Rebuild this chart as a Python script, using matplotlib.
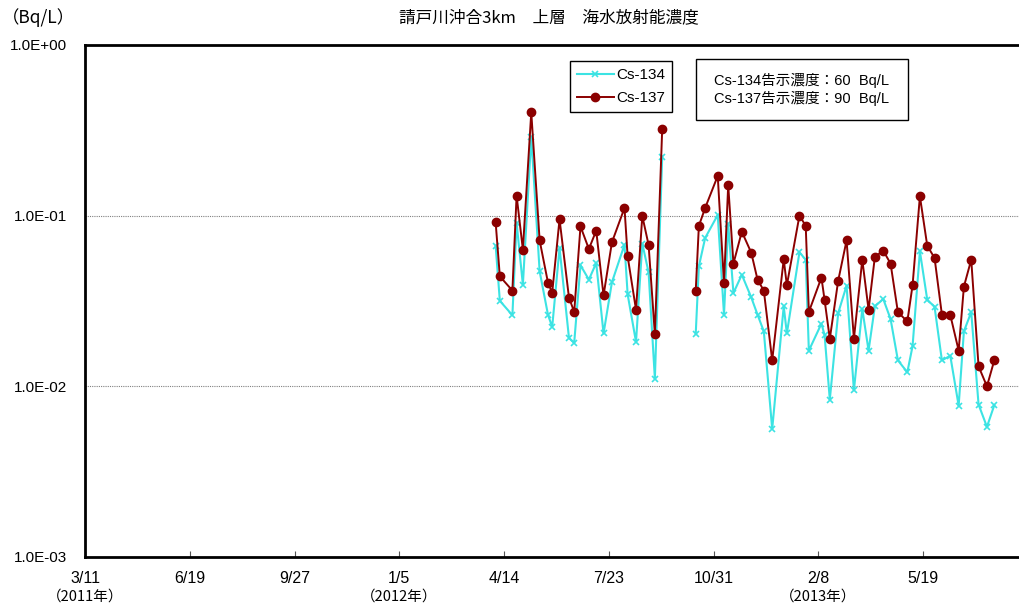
import matplotlib
matplotlib.use("Agg")
import matplotlib.pyplot as plt
from matplotlib.patches import Rectangle
import numpy as np
import pandas as pd

# ---- data ----
dates = [
    "2012-04-06", "2012-04-10", "2012-04-22", "2012-04-26", "2012-05-02", "2012-05-10",
    "2012-05-18", "2012-05-26", "2012-05-30", "2012-06-06", "2012-06-15", "2012-06-20",
    "2012-06-26", "2012-07-04", "2012-07-11", "2012-07-18", "2012-07-26", "2012-08-07",
    "2012-08-10", "2012-08-18", "2012-08-24", "2012-08-30", "2012-09-05", "2012-09-12",
    "2012-10-14", "2012-10-17", "2012-10-23", "2012-11-04", "2012-11-10", "2012-11-14",
    "2012-11-19", "2012-11-27", "2012-12-06", "2012-12-12", "2012-12-18", "2012-12-26",
    "2013-01-06", "2013-01-09", "2013-01-21", "2013-01-27", "2013-01-30", "2013-02-11",
    "2013-02-14", "2013-02-19", "2013-02-27", "2013-03-07", "2013-03-14", "2013-03-22",
    "2013-03-28", "2013-04-03", "2013-04-11", "2013-04-18", "2013-04-25", "2013-05-04",
    "2013-05-09", "2013-05-16", "2013-05-23", "2013-05-30", "2013-06-06", "2013-06-14",
    "2013-06-22", "2013-06-27", "2013-07-04", "2013-07-11", "2013-07-19", "2013-07-26",
]
cs134 = [
    0.0667, 0.0317, 0.0261, 0.0906, 0.0394, 0.289, 0.0472, 0.0262, 0.0223, 0.0647,
    0.0192, 0.0180, 0.0512, 0.0422, 0.0528, 0.0204, 0.0407, 0.0676, 0.0346, 0.0182,
    0.0686, 0.0466, 0.0111, 0.222,
    0.0203, 0.0505, 0.074, 0.101, 0.0263, 0.0898, 0.0352, 0.0451, 0.0332, 0.0263,
    0.0210, 0.00562, 0.0294, 0.0204, 0.0610, 0.0552, 0.0162, 0.0233, 0.0200, 0.00836,
    0.0269, 0.0389,
    0.00948, 0.0284, 0.0162, 0.0294, 0.0325, 0.0248, 0.0142, 0.0121, 0.0172, 0.0618,
    0.0322, 0.0292, 0.0142, 0.0151, 0.0077, 0.0210, 0.0272, 0.00782, 0.00579, 0.00775,
]
cs137 = [
    0.0914, 0.0441, 0.0364, 0.131, 0.0633, 0.403, 0.0716, 0.0404, 0.0354, 0.0952,
    0.0331, 0.0273, 0.0865, 0.0638, 0.0817, 0.0341, 0.0698, 0.111, 0.0578, 0.0281,
    0.0996, 0.0674, 0.0202, 0.322,
    0.0362, 0.0871, 0.111, 0.171, 0.0403, 0.151, 0.0524, 0.0806, 0.0607, 0.0422,
    0.0364, 0.0142, 0.0555, 0.0391, 0.100, 0.0873, 0.0273, 0.0434, 0.0321, 0.0190,
    0.0416, 0.0716,
    0.0190, 0.0552, 0.0281, 0.0573, 0.0624, 0.0524, 0.0272, 0.0240, 0.0391, 0.130,
    0.0667, 0.0565, 0.0263, 0.0262, 0.0162, 0.0384, 0.0552, 0.0131, 0.0100, 0.0142,
]
tick_dates = ["2011-03-11", "2011-06-19", "2011-09-27", "2012-01-05", "2012-04-14",
              "2012-07-23", "2012-10-31", "2013-02-08", "2013-05-19"]
tick_labels = ["3/11", "6/19", "9/27", "1/5", "4/14", "7/23", "10/31", "2/8", "5/19"]
year_dates = ["2011-03-11", "2012-01-05", "2013-02-08"]
year_labels = ["（2011年）", "（2012年）", "（2013年）"]
title = "請戸川沖合3km　上層　海水放射能濃度"
note = "Cs-134告示濃度：60  Bq/L\nCs-137告示濃度：90  Bq/L"

CJK = ["Noto Sans CJK JP", "DejaVu Sans"]
LAT = ["Liberation Sans", "DejaVu Sans"]
MIX = ["Liberation Sans", "Noto Sans CJK JP", "DejaVu Sans"]
NAR = ["Liberation Sans Narrow", "Liberation Sans", "DejaVu Sans"]
NARCJK = ["Liberation Sans Narrow", "Noto Sans CJK JP", "DejaVu Sans"]

d = pd.to_datetime(dates)
s = pd.DataFrame({"cs134": cs134, "cs137": cs137}, index=d)
# break the line where sampling pauses (> 20 days)
gap = np.r_[False, np.diff(d.values).astype("timedelta64[D]").astype(int) > 20]
seg = np.cumsum(gap)

W, H = 1019, 612
fig = plt.figure(figsize=(W / 100, H / 100), dpi=100)
ax = fig.add_axes([85 / W, 55 / H, 934 / W, 512 / H])

c134 = "#3CE3E3"
c137 = "#8B0000"
for k in np.unique(seg):
    part = s[seg == k]
    ax.plot(part.index, part["cs134"], color=c134, lw=1.5, marker="x", ms=5, mew=1.2,
            label="Cs-134" if k == 0 else None, zorder=2)
for k in np.unique(seg):
    part = s[seg == k]
    ax.plot(part.index, part["cs137"], color=c137, lw=1.4, marker="o", ms=6,
            label="Cs-137" if k == 0 else None, zorder=3)

ax.set_yscale("log")
ax.set_ylim(1e-3, 1e0)
x0 = pd.Timestamp("2011-03-11")
ax.set_xlim(x0, x0 + pd.Timedelta(days=891.6))

ax.yaxis.set_major_locator(matplotlib.ticker.LogLocator(base=10, numticks=10))
ax.yaxis.set_minor_locator(matplotlib.ticker.NullLocator())
ax.yaxis.set_major_formatter(matplotlib.ticker.FuncFormatter(lambda v, p: "{:.1E}".format(v)))
ax.tick_params(axis="y", length=0, pad=13, labelsize=11)
for lab in ax.get_yticklabels():
    lab.set_family(LAT)
ax.grid(axis="y", which="major", color="#808080", ls=(0, (1, 1)), lw=0.8)

ax.set_xticks(pd.to_datetime(tick_dates))
ax.set_xticklabels(tick_labels, family=NAR, fontsize=11.5)
ax.tick_params(axis="x", direction="in", length=4, width=0.8, pad=10, color="#555555")

for sp in ["left", "bottom", "top"]:
    ax.spines[sp].set_linewidth(2)
ax.spines["right"].set_visible(False)

for yd, yl in zip(year_dates, year_labels):
    ax.text(pd.Timestamp(yd), -0.078, yl, transform=ax.get_xaxis_transform(),
            ha="center", va="center", fontsize=10.5, family=NARCJK)

fig.text(549 / W, 1 - 18 / H, title, ha="center", va="center", fontsize=12, family=CJK)
fig.text(2 / W, 1 - 18 / H, "（Bq/L）", ha="left", va="center", fontsize=12.5, family=CJK)

leg = ax.legend(loc="upper left", bbox_to_anchor=((570 - 85) / 934, (557 - 61) / 512),
                frameon=True, fancybox=False, edgecolor="black", framealpha=1,
                prop={"family": LAT, "size": 11}, handlelength=2.4, handletextpad=0.2,
                borderpad=0.45, labelspacing=0.6, borderaxespad=0)
leg.get_frame().set_linewidth(1.0)

# note box (696..908 x, 59..120 y in pixels)
fig.patches.append(Rectangle((696 / W, 1 - 120 / H), 212 / W, 61 / H, transform=fig.transFigure,
                             fc="white", ec="black", lw=1.0, zorder=5))
fig.text(802 / W, 1 - 89.5 / H, note, ha="center", va="center", fontsize=10.5,
         family=MIX, linespacing=1.3, zorder=6)

fig.savefig("out.png", dpi=100)
